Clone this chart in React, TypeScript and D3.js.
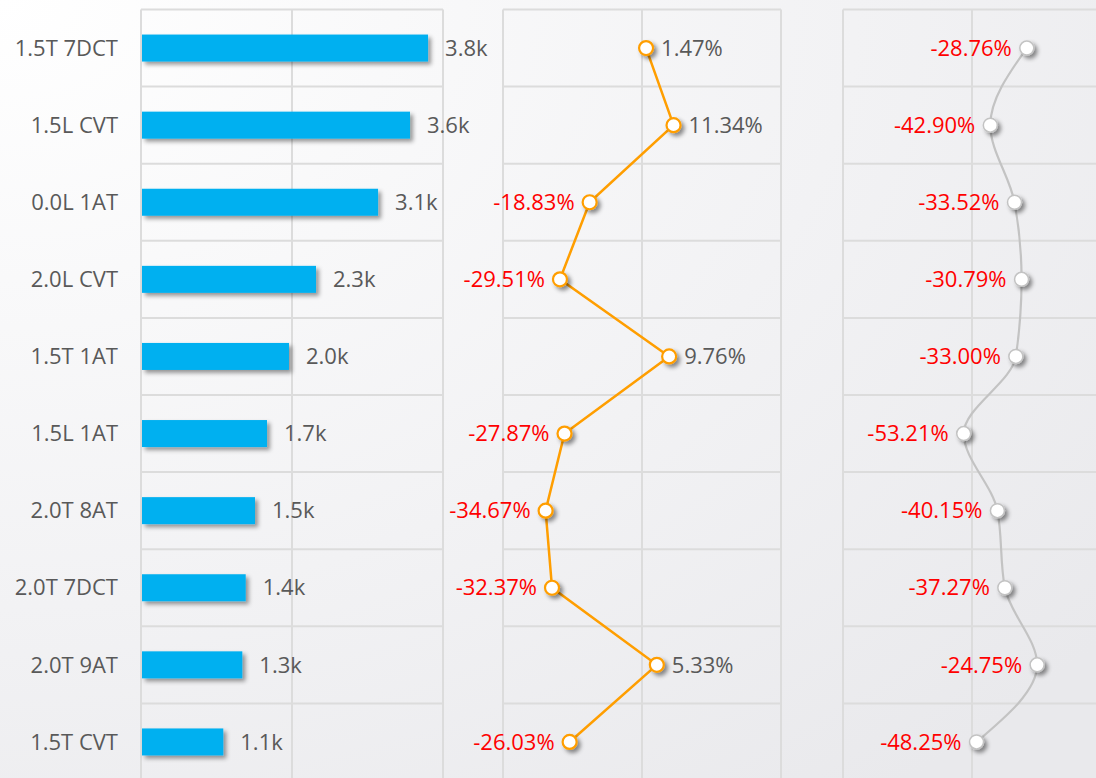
import React from 'react'
import * as d3 from 'd3'

const categories = ['1.5T 7DCT', '1.5L CVT', '0.0L 1AT', '2.0L CVT', '1.5T 1AT', '1.5L 1AT', '2.0T 8AT', '2.0T 7DCT', '2.0T 9AT', '1.5T CVT']
const volumes = [3802, 3563, 3140, 2318, 1960, 1669, 1510, 1387, 1342, 1090]
const growthA = [1.47, 11.34, -18.83, -29.51, 9.76, -27.87, -34.67, -32.37, 5.33, -26.03]
const growthB = [-28.76, -42.9, -33.52, -30.79, -33.0, -53.21, -40.15, -37.27, -24.75, -48.25]

const volumeTicks = [0, 2000, 4000]
const growthATicks = [-50, 0, 50]
const growthBTicks = [-100, -50, 0]

const width = 1096
const height = 778
const font = '"Open Sans", "Noto Sans", sans-serif'
const fontSize = 22
const labelGray = '#595959'
const red = '#ff0000'
const gridColor = '#dcdcdc'

const App = () => {
  // shared row scale across the three panels
  const y = d3.scaleBand().domain(categories).range([9.5, 780.5])
  const rows = d3.range(categories.length + 1).map(i => 9.5 + i * y.step())

  const xBar = d3.scaleLinear().domain([0, 4000]).range([141, 443])
  const xA = d3.scaleLinear().domain([-50, 50]).range([503, 781])
  const xB = d3.scaleLinear().domain([-100, 0]).range([843, 1101])

  const cy = (i: number) => (y(categories[i]) as number) + y.bandwidth() / 2
  const fmtK = (v: number) => (v / 1000).toFixed(1) + 'k'
  const fmtPct = (v: number) => v.toFixed(2) + '%'

  const lineA = d3.line<number>()
    .x(d => xA(d))
    .y((d, i) => cy(i))

  const lineB = d3.line<number>()
    .x(d => xB(d))
    .y((d, i) => cy(i))
    .curve(d3.curveMonotoneY)

  const grid = (scale: d3.ScaleLinear<number, number>, ticks: number[], key: string) => {
    const [x0, x1] = scale.range()
    return (
      <g key={key}>
        {rows.map((ry, i) => (
          <line key={'h' + i} x1={x0} x2={x1} y1={ry} y2={ry} stroke={gridColor} strokeWidth={2} />
        ))}
        {ticks.map(t => (
          <line key={'v' + t} x1={scale(t)} x2={scale(t)} y1={rows[0]} y2={rows[rows.length - 1]} stroke={gridColor} strokeWidth={2} />
        ))}
      </g>
    )
  }

  const barH = 27

  return (
    <div style={{ position: 'absolute', left: 0, top: 0 }}>
      <svg width={width} height={height} style={{ display: 'block' }} fontFamily={font}>
        <defs>
          <radialGradient id="bg" cx="0" cy="0" r="1.3" gradientUnits="objectBoundingBox">
            <stop offset="0" stopColor="#ffffff" />
            <stop offset="0.6" stopColor="#f2f2f4" />
            <stop offset="1" stopColor="#e9e9ec" />
          </radialGradient>
          <filter id="shadow" x="-20%" y="-40%" width="150%" height="200%">
            <feDropShadow dx="3" dy="3" stdDeviation="2.2" floodColor="#000" floodOpacity="0.4" />
          </filter>
          <filter id="dotShadow" x="-100%" y="-100%" width="300%" height="300%">
            <feDropShadow dx="3" dy="3" stdDeviation="2" floodColor="#000" floodOpacity="0.45" />
          </filter>
        </defs>
        <rect width={width} height={height} fill="url(#bg)" />

        {grid(xBar, volumeTicks, 'g1')}
        {grid(xA, growthATicks, 'g2')}
        {grid(xB, growthBTicks, 'g3')}

        {/* category labels */}
        {categories.map((c, i) => (
          <text key={c} x={118} y={cy(i)} dy="0.35em" textAnchor="end" fontSize={fontSize} fill={labelGray}>{c}</text>
        ))}

        {/* bars */}
        {volumes.map((v, i) => (
          <g key={'b' + i}>
            <rect x={xBar(0) + 1} y={cy(i) - barH / 2} width={xBar(v) - xBar(0) - 1} height={barH} fill="#00b0f0" filter="url(#shadow)" />
            <text x={xBar(v) + 17} y={cy(i)} dy="0.35em" fontSize={fontSize} fill={labelGray}>{fmtK(v)}</text>
          </g>
        ))}

        {/* growth A */}
        <path d={lineA(growthA) || ''} fill="none" stroke="#ff9e00" strokeWidth={2.5} />
        {growthA.map((v, i) => (
          <g key={'a' + i}>
            <circle cx={xA(v)} cy={cy(i)} r={7} fill="#fff" stroke="#ff9e00" strokeWidth={2.2} filter="url(#dotShadow)" />
            <text x={v >= 0 ? xA(v) + 15 : xA(v) - 15} y={cy(i)} dy="0.35em" textAnchor={v >= 0 ? 'start' : 'end'}
              fontSize={fontSize} fill={v >= 0 ? labelGray : red}>{fmtPct(v)}</text>
          </g>
        ))}

        {/* growth B */}
        <path d={lineB(growthB) || ''} fill="none" stroke="#c3c3c3" strokeWidth={2.2} />
        {growthB.map((v, i) => (
          <g key={'bb' + i}>
            <circle cx={xB(v)} cy={cy(i)} r={7} fill="#fff" stroke="#c3c3c3" strokeWidth={1.5} filter="url(#dotShadow)" />
            <text x={v >= 0 ? xB(v) + 15 : xB(v) - 15} y={cy(i)} dy="0.35em" textAnchor={v >= 0 ? 'start' : 'end'}
              fontSize={fontSize} fill={v >= 0 ? labelGray : red}>{fmtPct(v)}</text>
          </g>
        ))}
      </svg>
    </div>
  )
}

export default App
